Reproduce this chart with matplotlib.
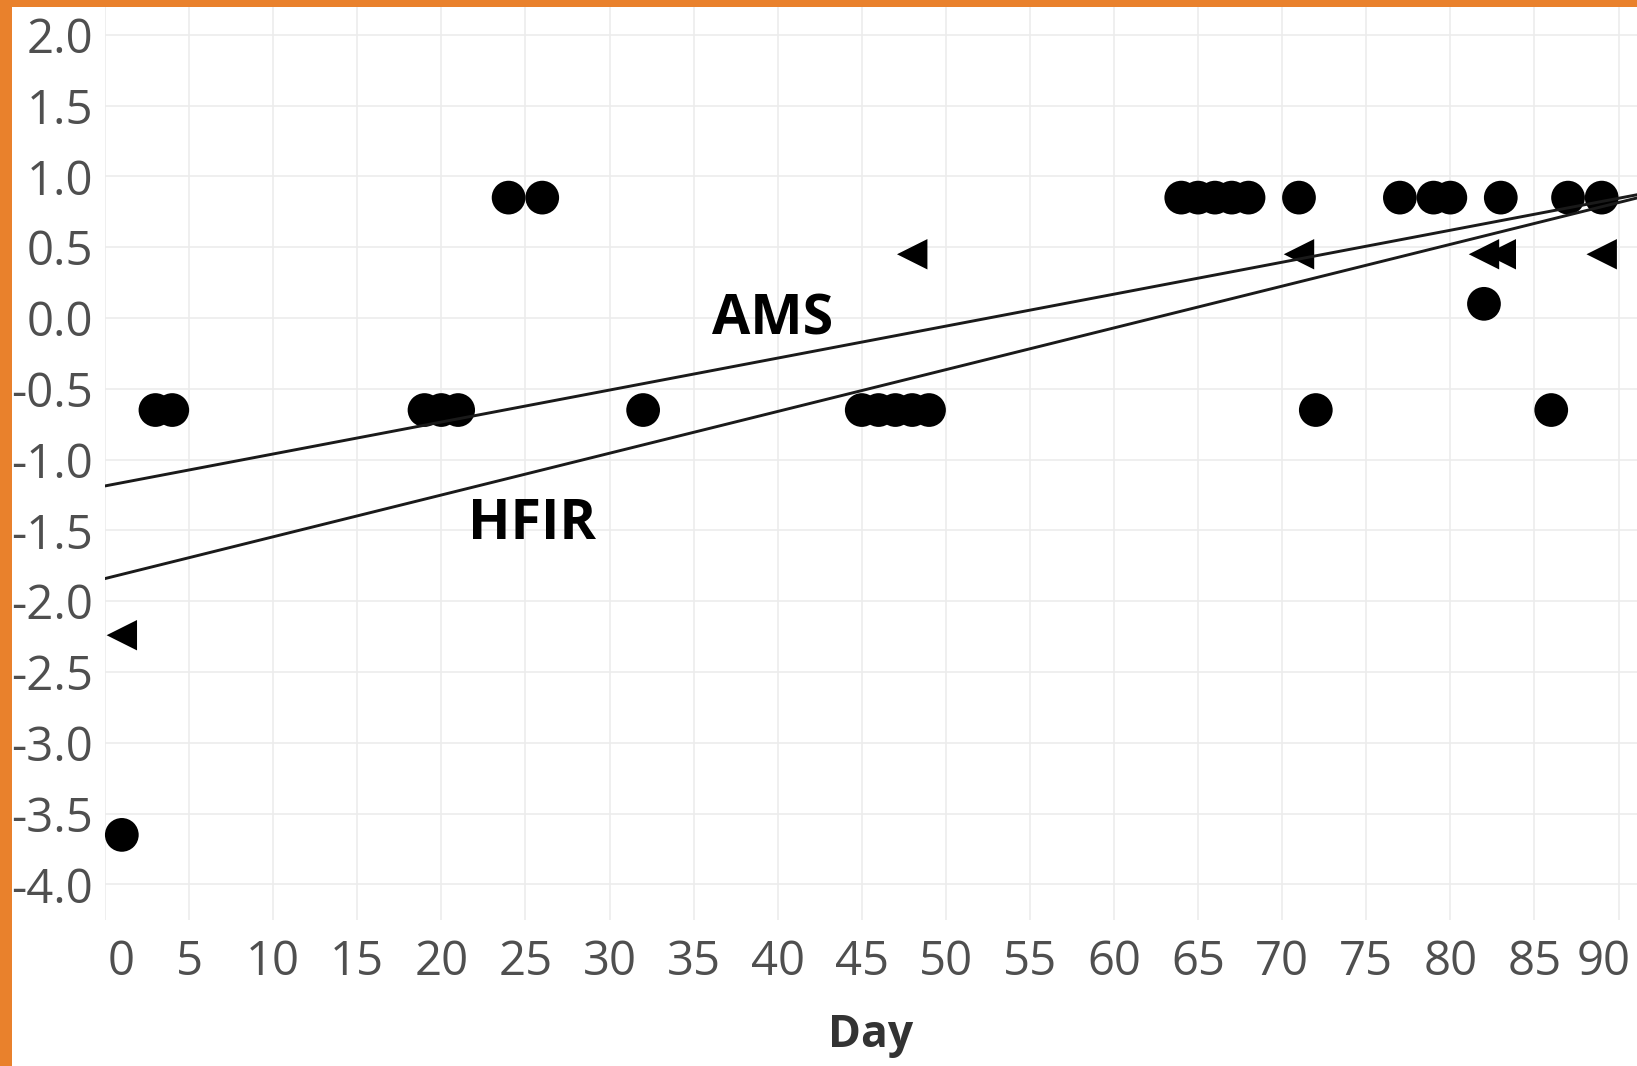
import numpy as np
import matplotlib
matplotlib.use("Agg")
import matplotlib.pyplot as plt
from matplotlib.patches import Rectangle
from matplotlib.transforms import ScaledTranslation

# Circle series: day and standardized score
circle_day = [1, 3, 4, 19, 20, 21, 24, 26, 32, 45, 46, 47, 48, 49,
              64, 65, 66, 67, 68, 71, 72, 77, 79, 80, 82, 83, 86, 87, 89]
circle_score = [-3.65, -0.65, -0.65, -0.65, -0.65, -0.65, 0.85, 0.85, -0.65,
                -0.65, -0.65, -0.65, -0.65, -0.65,
                0.85, 0.85, 0.85, 0.85, 0.85, 0.85, -0.65, 0.85, 0.85, 0.85,
                0.10, 0.85, -0.65, 0.85, 0.85]

# Triangle series
triangle_day = [1, 48, 71, 82, 83, 89]
triangle_score = [-2.24, 0.45, 0.45, 0.45, 0.45, 0.45]

# Fitted trend lines (intercept at day 0, slope per day)
trend_names = ["AMS", "HFIR"]
trend_intercept = [-1.186, -1.84]
trend_slope = [0.02257, 0.0295]
trend_label_pos = [(39.7, -0.015), (25.4, -1.46)]

x_ticks = list(range(0, 91, 5))
y_ticks = [round(v, 1) for v in np.arange(-4.0, 2.01, 0.5)]

W, H = 1637, 1066
fig = plt.figure(figsize=(W / 100, H / 100), dpi=100)
fig.patch.set_facecolor("white")

ax = fig.add_axes([105 / W, (H - 920) / H, (W - 105) / W, (920 - 7) / H])
ax.set_xlim(0, 91.1)
ax.set_ylim(-4.251, 2.196)

for s in ax.spines.values():
    s.set_visible(False)

ax.set_xticks(x_ticks)
ax.set_xticklabels([str(t) for t in x_ticks])
ax.set_yticks(y_ticks)
ax.set_yticklabels([f"{t:.1f}" for t in y_ticks])
ax.grid(True, color="#ececec", linewidth=1.2, zorder=0)
ax.set_axisbelow(True)

tick_font = dict(family="Open Sans", size=34, color="#4f4f4f")
ax.tick_params(axis="both", length=0)
ax.tick_params(axis="y", pad=8.5)
ax.tick_params(axis="x", pad=13)
for lab in ax.get_xticklabels() + ax.get_yticklabels():
    lab.set_fontfamily(tick_font["family"])
    lab.set_fontsize(tick_font["size"])
    lab.set_color(tick_font["color"])
    lab.set_fontweight("medium")

# Edge tick labels sit inside the axis span
xt = ax.xaxis.get_major_ticks()
xt[0].label1.set_transform(xt[0].label1.get_transform()
                           + ScaledTranslation(16 / 100, 0, fig.dpi_scale_trans))
xt[-1].label1.set_transform(xt[-1].label1.get_transform()
                            + ScaledTranslation(-15 / 100, 0, fig.dpi_scale_trans))

ax.scatter(circle_day, circle_score, s=590, marker="o", color="black",
           edgecolors="none", zorder=2, clip_on=False)
ax.scatter(triangle_day, triangle_score, s=480, marker="<", color="black",
           edgecolors="none", zorder=2, clip_on=False)

for name, b0, b1, (tx, ty) in zip(trend_names, trend_intercept, trend_slope,
                                  trend_label_pos):
    ax.axline((0, b0), slope=b1, color="#1a1a1a", linewidth=2.1, zorder=3)
    ax.text(tx, ty, name, ha="center", va="center", fontsize=40,
            fontweight="bold", family="Open Sans", color="black", zorder=4)

ax.set_xlabel("Day", fontsize=32, fontweight="bold", family="Open Sans",
              color="#333333", labelpad=20)

# Orange frame strips along the top and left edges
orange = "#e9812c"
fig.patches.append(Rectangle((0, 1 - 7 / H), 1, 7 / H, transform=fig.transFigure,
                             facecolor=orange, edgecolor="none", zorder=10))
fig.patches.append(Rectangle((0, 0), 12 / W, 1, transform=fig.transFigure,
                             facecolor=orange, edgecolor="none", zorder=10))

fig.savefig("out.png", dpi=100)
